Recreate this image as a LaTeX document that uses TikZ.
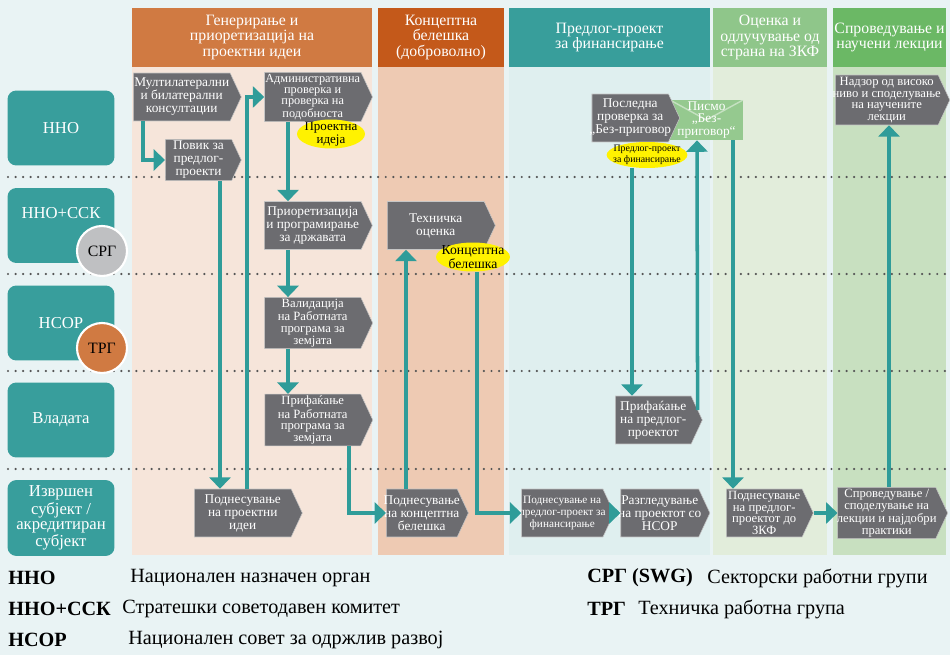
\documentclass[tikz,border=0pt]{standalone}
\usepackage{fontspec}
\setmainfont{Liberation Serif}
\usetikzlibrary{positioning,shapes.symbols,shapes.geometric,arrows.meta}

\definecolor{bgblue}{HTML}{E9F3F4}
\definecolor{headA}{HTML}{D07A42}
\definecolor{bodyA}{HTML}{F6E5DA}
\definecolor{headB}{HTML}{C4591A}
\definecolor{bodyB}{HTML}{EECAB3}
\definecolor{headC}{HTML}{389E9B}
\definecolor{bodyC}{HTML}{DFEFEF}
\definecolor{headD}{HTML}{8FC68A}
\definecolor{bodyD}{HTML}{E2EDDB}
\definecolor{headE}{HTML}{6BB865}
\definecolor{bodyE}{HTML}{C8E0C0}
\definecolor{laneteal}{HTML}{389E9C}
\definecolor{boxgray}{HTML}{6C6C70}
\definecolor{flowteal}{HTML}{2F9C99}
\definecolor{tagyellow}{HTML}{FFF200}
\definecolor{swggray}{HTML}{BFC0C2}
\definecolor{envgreen}{HTML}{95C98F}
\definecolor{dotgray}{HTML}{555555}

\newcommand{\fourline}{\fontsize{7.2}{6.6}\selectfont}
\newcommand{\smallbox}{\fontsize{6.4}{6.8}\selectfont}

\tikzstyle{stepbox} = [signal, signal to=east, signal from=nowhere, signal pointer angle=130, fill=boxgray, draw=gray!45, line width=0.3pt, text=white, align=center, inner xsep=-1.5pt, inner ysep=1pt, xshift=-3pt, minimum width=2.16cm, minimum height=0.96cm, font=\fontsize{7.6}{7.4}\selectfont]
\tikzstyle{tag} = [ellipse, fill=tagyellow, align=center, inner xsep=-3pt, inner ysep=-2pt, font=\fontsize{7.4}{7.4}\selectfont]
\tikzstyle{envelope} = [rectangle, fill=envgreen, text=white, align=center, inner sep=0pt, minimum width=1.46cm, minimum height=0.8cm, font=\fontsize{7.6}{7}\selectfont]
\tikzstyle{lane} = [rectangle, rounded corners=5pt, fill=laneteal, text=white, align=center, minimum width=2.14cm, minimum height=1.5cm, font=\fontsize{9.5}{8.6}\selectfont]
\tikzstyle{group} = [circle, draw=white, line width=1.2pt, minimum size=1cm, inner sep=0pt, font=\fontsize{9}{9}\selectfont]
\tikzstyle{head} = [rectangle, text=white, align=center, inner sep=0pt, minimum height=1.18cm, font=\fontsize{9}{9}\selectfont]
\tikzstyle{sep} = [draw=dotgray, line width=1.4pt, line cap=round, dash pattern=on 0pt off 4.3pt]
\tikzstyle{flow} = [-{Triangle[length=6.5pt,width=12pt]}, draw=flowteal, line width=2pt]
\tikzstyle{abbr} = [anchor=west, inner sep=0pt, font=\bfseries\fontsize{11.5}{12}\selectfont]
\tikzstyle{meaning} = [anchor=west, inner sep=0pt, font=\fontsize{11.5}{12}\selectfont]

\begin{document}
\begin{tikzpicture}[x=0.02cm, y=-0.02cm]
	\fill[bgblue] (0,0) rectangle (950,655);
	\useasboundingbox (0,0) rectangle (950,655);

	% columns
	\fill[bodyA] (132,67) rectangle (372,555);
	\fill[bodyB] (378,67) rectangle (504,555);
	\fill[bodyC] (509,67) rectangle (710,555);
	\fill[bodyD] (713,67) rectangle (827,555);
	\fill[bodyE] (833,67) rectangle (946,555);

	\node[head, fill=headA, minimum width=4.8cm] (hgen) at ( 252, 37.5 ) {Генерирање и\\приоретизација на\\проектни идеи};
	\node[head, fill=headB, minimum width=2.52cm] (hnote) at ( 441, 37.5 ) {Концептна\\белешка\\(доброволно)};
	\node[head, fill=headC, minimum width=4.02cm] (hprop) at ( 609.5, 37.5 ) {Предлог-проект\\за финансирање};
	\node[head, fill=headD, minimum width=2.28cm] (hgcf) at ( 770, 37.5 ) {Оценка и\\одлучување од\\страна на ЗКФ};
	\node[head, fill=headE, minimum width=2.26cm] (himpl) at ( 889.5, 37.5 ) {Спроведување и\\научени лекции};

	\foreach \y in {177,274,371,469}
		\draw[sep] (8,\y) -- (950,\y);

	% lanes
	\node[lane] (nno) at ( 61, 128 ) {ННО};
	\node[lane, label={[text=white, font=\fontsize{9.5}{9.5}\selectfont, yshift=7pt]center:ННО+ССК}] (nnossk) at ( 61, 225.5 ) {};
	\node[lane] (nsor) at ( 61, 323 ) {НСОР};
	\node[lane] (gov) at ( 61, 420 ) {Владата};
	\node[lane] (exec) at ( 61, 518 ) {Извршен\\субјект /\\акредитиран\\субјект};
	\node[group, fill=swggray] (srg) at ( 102, 251 ) {СРГ};
	\node[group, fill=headA] (trg) at ( 102, 348 ) {ТРГ};

	% steps
	\node[stepbox] (multi) at ( 187, 97 ) {Мултилатерални\\и билатерални\\консултации};
	\node[stepbox, minimum width=1.52cm, minimum height=0.72cm, xshift=1pt] (povik) at ( 202, 160 ) {Повик за\\предлог-\\проекти};
	\node[stepbox, font=\fontsize{7}{6.3}\selectfont] (admin) at ( 318, 97 ) {Административна\\проверка и\\проверка на\\подобноста};
	\node[stepbox] (prior) at ( 318, 225.5 ) {Приоретизација\\и програмирање\\за државата};
	\node[stepbox, font=\fourline] (valid) at ( 318, 323 ) {Валидација\\на Работната\\програма за\\земјата};
	\node[stepbox, font=\fourline] (prif1) at ( 318, 420 ) {Прифаќање\\на Работната\\програма за\\земјата};
	\node[stepbox] (podn1) at ( 248, 513 ) {Поднесување\\на проектни\\идеи};
	\node[stepbox] (tech) at ( 441, 225.5 ) {Техничка\\оценка};
	\node[stepbox, minimum width=1.64cm] (podn2) at ( 427, 513 ) {Поднесување\\на концептна\\белешка};
	\node[stepbox, minimum width=1.62cm, font=\smallbox] (podn3) at ( 567.5, 513 ) {Поднесување на\\предлог-проект за\\финансирање};
	\node[stepbox, minimum width=1.64cm] (razgl) at ( 665, 513 ) {Разгледување\\на проектот со\\НСОР};
	\node[stepbox, minimum width=1.74cm] (prif2) at ( 658.5, 420 ) {Прифаќање\\на предлог-\\проектот};
	\node[envelope, path picture={\draw[white!45!envgreen, line width=0.8pt] (path picture bounding box.north west) -- (path picture bounding box.center) -- (path picture bounding box.north east);}] (pismo) at ( 706.5, 120 ) {Писмо\\„Без-\\приговор“};
	\node[stepbox, minimum width=1.66cm] (posl) at ( 635.5, 118 ) {Последна\\проверка за\\„Без-приговор};
	\node[stepbox, minimum width=1.74cm, font=\fourline] (podn4) at ( 769.5, 513 ) {Поднесување\\на предлог-\\проектот до\\ЗКФ};
	\node[stepbox, minimum width=2.2cm, font=\fourline] (spro) at ( 892, 513 ) {Спроведување /\\споделување на\\лекции и најдобри\\практики};
	\node[stepbox, minimum width=2.24cm, minimum height=1cm, font=\fourline] (nadzor) at ( 892, 100 ) {Надзор од високо\\ниво и споделување\\на научените\\лекции};

	\node[tag, minimum width=1.36cm, minimum height=0.58cm] (idea) at ( 331, 134 ) {Проектна\\идеја};
	\node[tag, minimum width=1.48cm, minimum height=0.58cm, font=\fontsize{7.8}{7.6}\selectfont] (note) at ( 473, 257 ) {Концептна\\белешка};
	\node[tag, minimum width=1.5cm, minimum height=0.52cm, font=\fontsize{5.6}{6}\selectfont] (fin) at ( 647, 155 ) {Предлог-проект\\за финансирање};

	\draw[flow] (multi.south -| 143,0) |- (povik.west);
	\draw[flow] (povik.south -| 220,0) -- (podn1.north -| 220,0);
	\draw[flow] (podn1.north -| 247,0) |- (admin.west);
	\draw[flow] (admin.south -| 288,0) -- (prior.north -| 288,0);
	\draw[flow] (prior.south -| 288,0) -- (valid.north -| 288,0);
	\draw[flow] (valid.south -| 288,0) -- (prif1.north -| 288,0);
	\draw[flow] (prif1.south -| 349,0) |- (podn2.west);
	\draw[flow] (podn2.north -| 406,0) -- (tech.south -| 406,0);
	\draw[flow] (note.south -| 477,0) |- (podn3.west);
	\draw[flow] (podn3.east) -- (razgl.west);
	\draw[flow] (fin.south -| 632,0) -- (prif2.north -| 632,0);
	\draw[flow] ([shift={(-5,-10)}]prif2.east) -- (pismo.south -| 697,0);
	\draw[flow] (pismo.south -| 733,0) -- (podn4.north -| 733,0);
	\draw[flow] (podn4.east) -- (spro.west);
	\draw[flow] (spro.north -| 889,0) -- (nadzor.south -| 889,0);

	% legend
	\node[abbr] (knno) at ( 8, 578 ) {ННО};
	\node[meaning] (vnno) at ( 130, 578 ) {Национален назначен орган};
	\node[abbr] (knnossk) at ( 8, 609 ) {ННО+ССК};
	\node[meaning] (vnnossk) at ( 122, 609 ) {Стратешки советодавен комитет};
	\node[abbr] (knsor) at ( 8, 640 ) {НСОР};
	\node[meaning] (vnsor) at ( 128, 640 ) {Национален совет за одржлив развој};
	\node[abbr] (ksrg) at ( 587, 578 ) {СРГ (SWG)};
	\node[meaning] (vsrg) at ( 707, 578 ) {Секторски работни групи};
	\node[abbr] (ktrg) at ( 587, 609 ) {ТРГ};
	\node[meaning] (vtrg) at ( 638, 609 ) {Техничка работна група};
\end{tikzpicture}
\end{document}
